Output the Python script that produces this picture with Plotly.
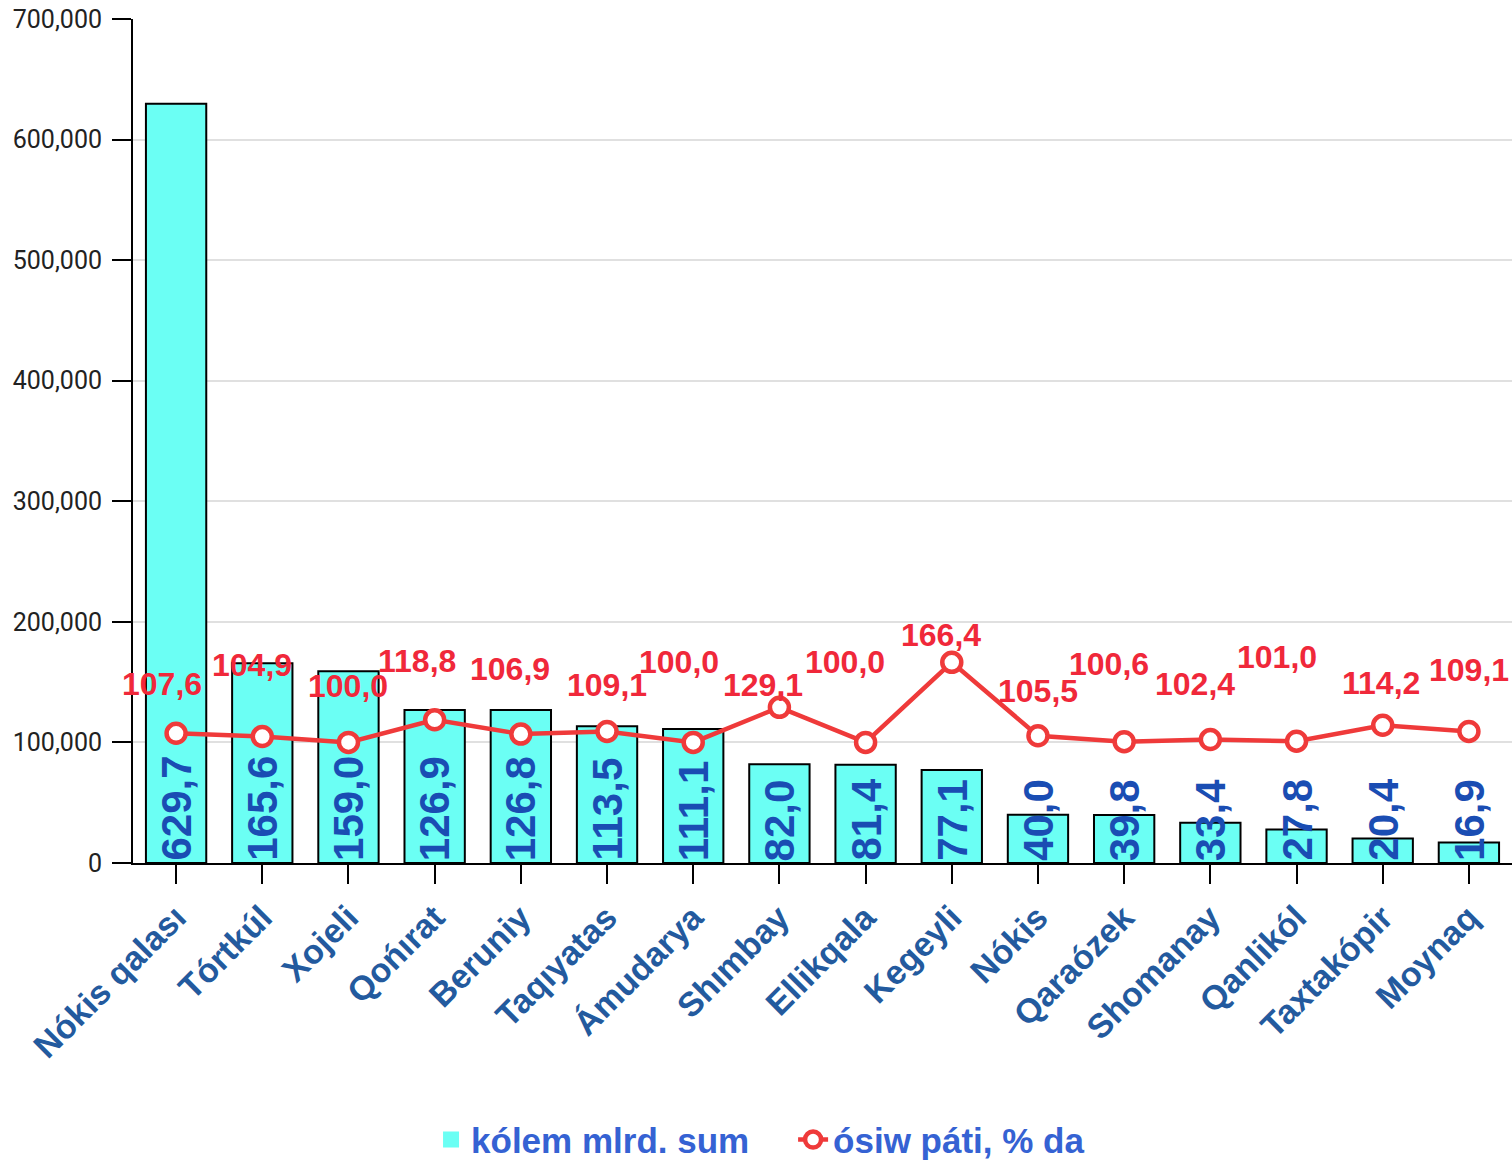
import plotly.graph_objects as go

categories = ["Nókis qalası", "Tórtkúl", "Xojeli", "Qońırat", "Beruniy", "Taqıyatas",
              "Ámudarya", "Shımbay", "Ellikqala", "Kegeyli", "Nókis", "Qaraózek",
              "Shomanay", "Qanlikól", "Taxtakópir", "Moynaq"]
volume = [629.7, 165.6, 159.0, 126.9, 126.8, 113.5, 111.1, 82.0, 81.4, 77.1,
          40.0, 39.8, 33.4, 27.8, 20.4, 16.9]
growth = [107.6, 104.9, 100.0, 118.8, 106.9, 109.1, 100.0, 129.1, 100.0, 166.4,
          105.5, 100.6, 102.4, 101.0, 114.2, 109.1]
tick_vals = [0, 100, 200, 300, 400, 500, 600, 700]
tick_text = ["0", "100,000", "200,000", "300,000", "400,000", "500,000", "600,000", "700,000"]

# label offsets (pixels) for growth labels, style only
label_dx = [-14, -10, 0, -18, -11, 0, -14, -16, -21, -11, 0, -15, -15, -20, -2, 0]
label_dy = [49, 72, 56, 59, 65, 46, 80, 22, 80, 27, 45, 78, 56, 84, 42, 61]

def fmt(v):
    return f"{v:.1f}".replace(".", ",")

BOLD = "Arial, Liberation Sans"

fig = go.Figure()
fig.add_trace(go.Bar(
    x=categories, y=volume, name="kólem mlrd. sum", showlegend=False,
    marker=dict(color="#6bfff4", line=dict(color="black", width=2)),
))
fig.add_trace(go.Scatter(
    x=[None], y=[None], name="kólem mlrd. sum\u00a0\u00a0\u00a0\u00a0", mode="markers",
    marker=dict(symbol="square", size=30, color="#6bfff4"),
))
fig.add_trace(go.Scatter(
    x=categories, y=growth, name="ósiw páti, % da", mode="lines+markers",
    line=dict(color="#ef3a3a", width=4.5),
    marker=dict(size=19, color="white", line=dict(color="#ef3a3a", width=4.5)),
))

annotations = []
for c, v in zip(categories, volume):
    annotations.append(dict(
        x=c, y=0, text=fmt(v), showarrow=False, textangle=-90,
        yanchor="bottom", xanchor="center", yshift=0,
        font=dict(family=BOLD, size=42, color="#1a4db3", weight="bold"),
    ))
for i, (c, g) in enumerate(zip(categories, growth)):
    annotations.append(dict(
        x=c, y=g, text=fmt(g), showarrow=False,
        xshift=label_dx[i], yshift=label_dy[i],
        font=dict(family=BOLD, size=32, color="#f0283a", weight="bold"),
    ))

fig.update_layout(
    width=1512, height=1162,
    margin=dict(l=133, r=0, t=19, b=299, autoexpand=False),
    plot_bgcolor="white", paper_bgcolor="white",
    bargap=0.3,
    showlegend=True,
    legend=dict(orientation="h", xref="container", yref="paper",
                x=0.503, xanchor="center", y=-0.328, yanchor="middle",
                font=dict(family=BOLD, size=35, color="#3562d3", weight="bold"),
                itemsizing="trace", tracegroupgap=0),
    annotations=annotations,
)

fig.update_xaxes(
    range=[-0.5, 15.5], showline=True, linecolor="black", linewidth=2,
    ticks="outside", ticklen=19, tickwidth=2, tickcolor="black",
    tickangle=-45,
    tickfont=dict(family=BOLD, size=34, color="#235a9e", weight="bold"),
)
fig.update_yaxes(
    range=[0, 700], tickvals=tick_vals, ticktext=tick_text,
    showline=True, linecolor="black", linewidth=2,
    ticks="outside", ticklen=19, tickwidth=2, tickcolor="black",
    ticklabelstandoff=5,
    showgrid=True, gridcolor="#e0e0e0", gridwidth=1.5, zeroline=False,
    tickfont=dict(family="Roboto", size=25, color="#222222"),
)

fig.write_html("out.html", config={"displayModeBar": False},
               post_script="document.body.style.margin='0';document.body.style.overflow='hidden';")
